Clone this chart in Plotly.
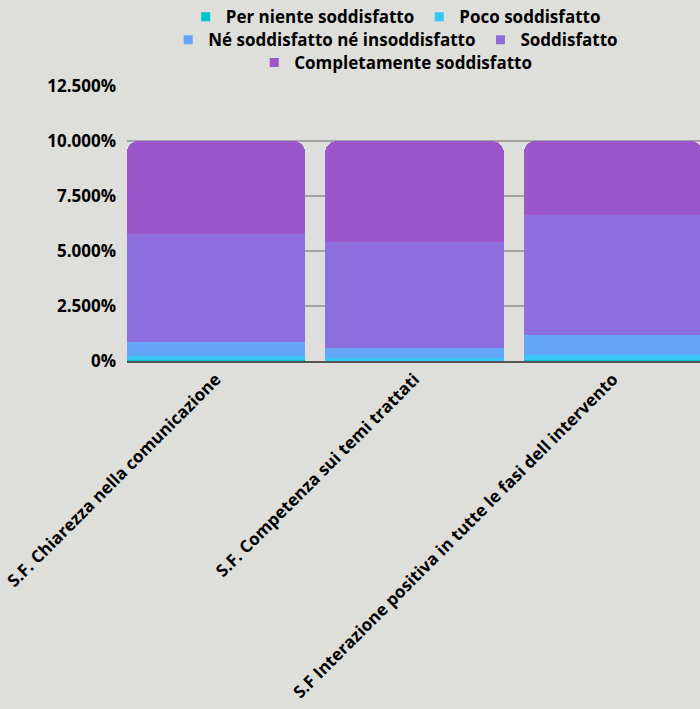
import plotly.graph_objects as go

categories = [
    "S.F. Chiarezza nella comunicazione",
    "S.F. Competenza sui temi trattati",
    "S.F Interazione positiva in tutte le fasi dell intervento",
]
series_names = [
    "Per niente soddisfatto",
    "Poco soddisfatto",
    "Né soddisfatto né insoddisfatto",
    "Soddisfatto",
    "Completamente soddisfatto",
]
per_niente = [0.06, 0.0, 0.06]
poco = [0.17, 0.14, 0.21]
ne_ne = [0.63, 0.45, 0.91]
soddisfatto = [4.91, 4.82, 5.46]
completamente = [4.23, 4.59, 3.36]
series_values = [per_niente, poco, ne_ne, soddisfatto, completamente]
colors = ["#00C4CC", "#38C6F4", "#64A6F8", "#8C6EDC", "#9B57C9"]
legend_ids = ["legend", "legend", "legend2", "legend2", "legend3"]

y_tickvals = [0, 2.5, 5, 7.5, 10, 12.5]
y_ticktext = ["0%", "2.500%", "5.000%", "7.500%", "10.000%", "12.500%"]

FONT = "Open Sans"
BG = "#DEDEDA"
FS = 17
FW = "bold"

fig = go.Figure()
for name, vals, col in zip(series_names, series_values, colors):
    fig.add_trace(go.Bar(x=categories, y=vals, name=name, marker_color=col,
                         marker_line_width=0, showlegend=False,
                         hovertemplate="%{y:.3f}%<extra>" + name + "</extra>"))
for name, col, lg in zip(series_names, colors, legend_ids):
    fig.add_trace(go.Scatter(x=[None], y=[None], mode="markers", name=name,
                             marker=dict(symbol="square", size=9, color=col),
                             legend=lg, showlegend=True))

leg_common = dict(orientation="h", xanchor="center", yanchor="middle",
                  bgcolor="rgba(0,0,0,0)", traceorder="normal",
                  font=dict(family=FONT, size=FS, color="#000000", weight=FW),
                  itemclick=False, itemdoubleclick=False)

fig.update_layout(
    width=700, height=709,
    paper_bgcolor=BG, plot_bgcolor=BG,
    barmode="stack", bargap=0.1, barcornerradius=12,
    margin=dict(l=127, r=0, t=86, b=348, autoexpand=False),
    font=dict(family=FONT, size=FS, color="#000000", weight=FW),
    legend=dict(x=0.469, y=1.25, **leg_common),
    legend2=dict(x=0.469, y=1.167, **leg_common),
    legend3=dict(x=0.469, y=1.084, **leg_common),
    xaxis=dict(range=[-0.448, 2.438], tickangle=-45, showgrid=False,
               showline=True, linecolor="#555555", linewidth=1.5,
               automargin=False,
               tickfont=dict(family=FONT, size=FS, color="#000000", weight=FW)),
    yaxis=dict(range=[0, 12.5], tickvals=y_tickvals, ticktext=y_ticktext,
               showgrid=True, gridcolor="#A3A3A0", gridwidth=1.5,
               zeroline=False, automargin=False, ticklabelstandoff=10,
               tickfont=dict(family=FONT, size=FS, color="#000000", weight=FW)),
)

fig.write_html("out.html", config={"displayModeBar": False},
               post_script="document.body.style.margin='0';document.body.style.background='" + BG + "';")
